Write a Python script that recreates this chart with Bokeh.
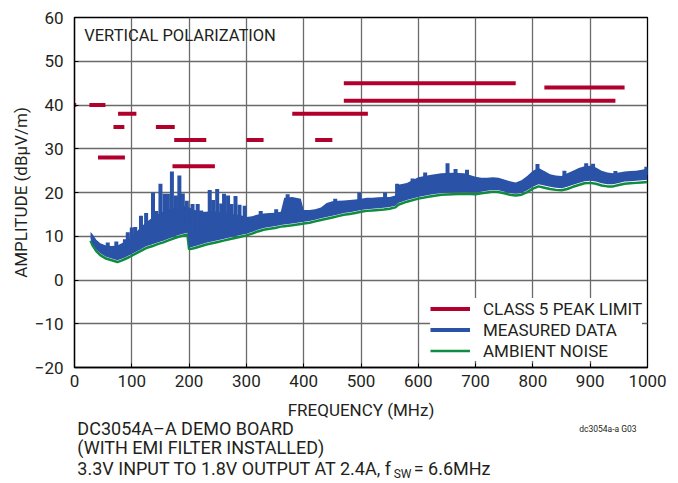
from bokeh.plotting import figure
from bokeh.layouts import column
from bokeh.models import Range1d, FixedTicker, Label, Legend, LegendItem
from bokeh.embed import file_html
from bokeh.resources import INLINE

# ---------------- data ----------------
# CLASS 5 peak limit segments (MHz start, MHz end, dBuV/m)
limit_f0 = [0.5, 26, 41, 68, 76, 142, 174, 171, 300, 380, 420, 470, 470, 820]
limit_f1 = [3, 54, 88, 87, 108, 175, 230, 245, 330, 512, 450, 770, 944, 960]
limit_lvl = [40, 40, 28, 35, 38, 35, 32, 26, 32, 38, 32, 45, 41, 44]

# measured data: band envelope
freq = [28, 32, 38, 45, 55, 65, 75, 85, 95, 105, 115, 125, 135, 145, 155, 165,
        175, 185, 197, 200, 210, 220, 230, 240, 250, 260, 270, 280, 290, 300,
        310, 320, 330, 340, 350, 360, 366, 380, 395, 400, 410, 420, 430, 440,
        450, 460, 470, 480, 490, 500, 510, 520, 530, 540, 550, 560, 565, 580,
        600, 620, 640, 660, 680, 700, 710, 720, 730, 740, 750, 760, 770, 780,
        790, 800, 810, 820, 830, 840, 850, 860, 870, 880, 890, 900, 910, 920,
        930, 940, 950, 960, 970, 980, 990, 1000]
meas_low = [9.4, 8.2, 7.0, 6.1, 5.3, 4.9, 4.5, 5.0, 5.6, 6.3, 7.0, 7.7, 8.1, 8.6,
            9.0, 9.5, 10.0, 10.4, 10.8, 7.4, 7.7, 8.1, 8.5, 8.8, 9.1, 9.4, 9.7,
            10.0, 10.3, 10.6, 11.0, 11.5, 11.9, 12.1, 12.3, 12.6, 12.7, 12.9,
            13.2, 13.3, 13.5, 13.8, 14.1, 14.4, 14.7, 15.0, 15.3, 15.5, 15.7,
            16.0, 16.2, 16.3, 16.4, 16.5, 16.7, 17.0, 17.6, 18.3, 19.0, 19.5,
            19.9, 20.0, 20.1, 20.0, 20.2, 20.4, 20.6, 20.5, 20.2, 19.9, 19.7,
            19.9, 20.5, 21.3, 21.9, 21.6, 21.3, 21.1, 21.0, 21.3, 21.8, 22.2,
            22.6, 22.7, 22.5, 22.1, 21.9, 21.9, 22.2, 22.5, 22.6, 22.7, 22.8, 22.9]
meas_high = [11.0, 10.4, 9.2, 8.4, 7.9, 7.8, 7.9, 8.6, 9.4, 10.6, 12.0, 13.2, 14.2,
             15.0, 15.6, 16.2, 16.6, 16.8, 17.0, 16.6, 16.0, 15.6, 15.6, 15.8,
             15.6, 15.4, 15.3, 15.0, 14.8, 14.4, 14.6, 15.0, 15.2, 15.3, 15.4,
             15.6, 18.8, 19.0, 18.6, 16.0, 16.0, 16.2, 16.6, 17.6, 18.0, 18.1,
             18.2, 18.3, 18.4, 18.6, 18.8, 18.8, 18.9, 19.0, 19.0, 19.3, 21.8,
             22.2, 23.5, 24.0, 24.4, 24.5, 24.4, 23.6, 23.4, 23.4, 23.5, 23.4,
             23.0, 22.6, 22.3, 22.8, 23.8, 25.0, 25.6, 24.9, 24.2, 23.9, 23.8,
             24.4, 25.0, 25.6, 26.0, 26.1, 25.7, 25.0, 24.6, 24.4, 24.6, 24.8,
             24.9, 25.0, 25.2, 25.5]
# measured data: narrow emission spikes
spike_f = [58, 73, 88, 93, 100, 106, 116, 125, 137, 143, 150, 157, 163, 170, 177,
           183, 189, 196, 206, 215, 221, 236, 242, 249, 256, 261, 268, 274, 281,
           288, 297, 325, 352, 372, 455, 497, 542, 563, 590, 612, 651, 665, 685,
           808, 855, 893, 905, 944, 998]
spike_top = [8.6, 8.8, 9.3, 10.9, 12.0, 12.1, 14.7, 15.3, 20.0, 15.8, 22.0, 19.7,
             19.7, 24.8, 19.3, 23.9, 19.8, 18.1, 17.4, 17.4, 15.9, 20.6, 18.3,
             20.8, 17.5, 19.7, 19.3, 17.4, 19.2, 17.2, 17.0, 15.8, 16.2, 19.6,
             18.6, 20.0, 20.0, 22.0, 23.2, 24.6, 26.7, 25.4, 25.2, 26.5, 25.0,
             26.7, 26.6, 24.9, 25.9]
spike_base = [6, 6, 6.5, 7, 8, 8, 9, 10, 10, 11, 11, 12, 12, 12, 12, 12, 12, 12,
              10, 10, 10, 11, 11, 11, 11, 12, 12, 12, 12, 12, 12, 13, 14, 15, 16,
              17, 17, 18, 20, 21, 22, 22, 22, 23, 22, 24, 24, 23, 24]

# ambient noise
ambient = [9.0, 7.8, 6.6, 5.7, 4.9, 4.5, 4.1, 4.6, 5.2, 5.9, 6.6, 7.3, 7.7, 8.2,
           8.6, 9.1, 9.6, 10.0, 10.4, 7.0, 7.3, 7.7, 8.1, 8.4, 8.7, 9.0, 9.3,
           9.6, 9.9, 10.2, 10.6, 11.1, 11.5, 11.7, 11.9, 12.2, 12.3, 12.5,
           12.8, 12.9, 13.1, 13.4, 13.7, 14.0, 14.3, 14.6, 14.9, 15.1, 15.3,
           15.6, 15.8, 15.9, 16.0, 16.1, 16.3, 16.6, 17.2, 17.9, 18.6, 19.1,
           19.5, 19.6, 19.7, 19.6, 19.8, 20.0, 20.2, 20.1, 19.8, 19.5, 19.3,
           19.5, 20.1, 20.9, 21.4, 21.1, 20.8, 20.6, 20.5, 20.8, 21.3, 21.7,
           22.1, 22.2, 22.0, 21.6, 21.4, 21.4, 21.7, 22.0, 22.1, 22.2, 22.3, 22.4]

x_ticks = [0, 100, 200, 300, 400, 500, 600, 700, 800, 900, 1000]
y_ticks = [-20, -10, 0, 10, 20, 30, 40, 50, 60]

# ---------------- styling ----------------
FONT = "Roboto"
TXT = "#231f20"
RED = "#b2002c"
BLUE = "#2a52a6"
GREEN = "#0f8c3f"
GRID = "#6a6a6a"
W = 676
H1 = 425
OVERLAP = 11
H2 = 67

p = figure(width=W, height=H1, x_range=Range1d(0, 1000), y_range=Range1d(-20, 60),
           output_backend="svg", toolbar_location=None,
           min_border_left=74, min_border_right=29, min_border_top=17,
           min_border_bottom=58)
p.background_fill_color = "white"
p.border_fill_color = "white"
p.outline_line_color = "black"
p.outline_line_width = 1.3

for g, t in ((p.xgrid, x_ticks), (p.ygrid, y_ticks)):
    g.ticker = FixedTicker(ticks=t)
    g.grid_line_color = GRID
    g.grid_line_width = 1.3

p.xaxis.ticker = FixedTicker(ticks=x_ticks)
p.yaxis.ticker = FixedTicker(ticks=y_ticks)
p.yaxis.major_label_overrides = {-10: "\u221210", -20: "\u221220"}
for ax in (p.xaxis, p.yaxis):
    ax.axis_line_color = "black"
    ax.axis_line_width = 1.3
    ax.major_tick_in = 4
    ax.major_tick_out = 0
    ax.major_tick_line_color = "black"
    ax.minor_tick_line_color = None
    ax.major_label_text_font = FONT
    ax.major_label_text_font_size = "17px"
    ax.major_label_text_color = TXT
    ax.axis_label_text_font = FONT
    ax.axis_label_text_font_size = "17px"
    ax.axis_label_text_font_style = "normal"
    ax.axis_label_text_color = TXT
p.xaxis.axis_label = "FREQUENCY (MHz)"
p.yaxis.axis_label = "AMPLITUDE (dB\u00b5V/m)"
p.xaxis.major_label_standoff = 7
p.xaxis.axis_label_standoff = 10
p.yaxis.major_label_standoff = 11
p.yaxis.axis_label_standoff = 1

# ---------------- glyphs ----------------
r_amb = p.line(freq, ambient, line_color=GREEN, line_width=2.5)
p.varea(x=freq, y1=meas_low, y2=meas_high, fill_color=BLUE)
r_meas = p.segment(x0=spike_f, y0=spike_base, x1=spike_f, y1=spike_top,
                   line_color=BLUE, line_width=4)
r_lim = p.segment(x0=limit_f0, y0=limit_lvl, x1=limit_f1, y1=limit_lvl,
                  line_color=RED, line_width=4)

legend = Legend(items=[LegendItem(label="CLASS 5 PEAK LIMIT", renderers=[r_lim]),
                       LegendItem(label="MEASURED DATA", renderers=[r_meas]),
                       LegendItem(label="AMBIENT NOISE", renderers=[r_amb])],
                location=(356, 6), padding=6, spacing=0, margin=0,
                glyph_width=40, glyph_height=21, label_height=21,
                label_standoff=13, border_line_color=None,
                background_fill_color="white", background_fill_alpha=1.0,
                label_text_font=FONT, label_text_font_size="17px",
                label_text_color=TXT)
p.add_layout(legend, "center")

p.add_layout(Label(x=17, y=55.9, text="VERTICAL POLARIZATION", text_font=FONT,
                   text_font_size="16.5px", text_color=TXT, text_baseline="middle"))

# ---------------- notes under the chart ----------------
n = figure(width=W, height=H2, x_range=p.x_range, y_range=Range1d(H2, 0),
           output_backend="svg", toolbar_location=None,
           x_axis_type=None, y_axis_type=None,
           min_border_left=74, min_border_right=29, min_border_top=0,
           min_border_bottom=0, margin=(-OVERLAP, 0, 0, 0))
n.outline_line_color = None
n.grid.visible = False
n.background_fill_alpha = 0
n.border_fill_alpha = 0

def note(x, y, text, size="18px", align="left"):
    n.add_layout(Label(x=x, y=y, text=text, text_font=FONT, text_font_size=size,
                       text_color=TXT, text_baseline="middle", text_align=align))

note(5, 14, "DC3054A\u2013A DEMO BOARD")
note(5, 33, "(WITH EMI FILTER INSTALLED)")
note(5, 54, "3.3V INPUT TO 1.8V OUTPUT AT 2.4A, f")
note(557, 59, "SW", size="12px")
note(592, 54, "= 6.6MHz")
note(981, 14, "dc3054a-a G03", size="8.5px", align="right")

layout = column(p, n, spacing=0)
open("out.html", "w").write(file_html(layout, INLINE))
